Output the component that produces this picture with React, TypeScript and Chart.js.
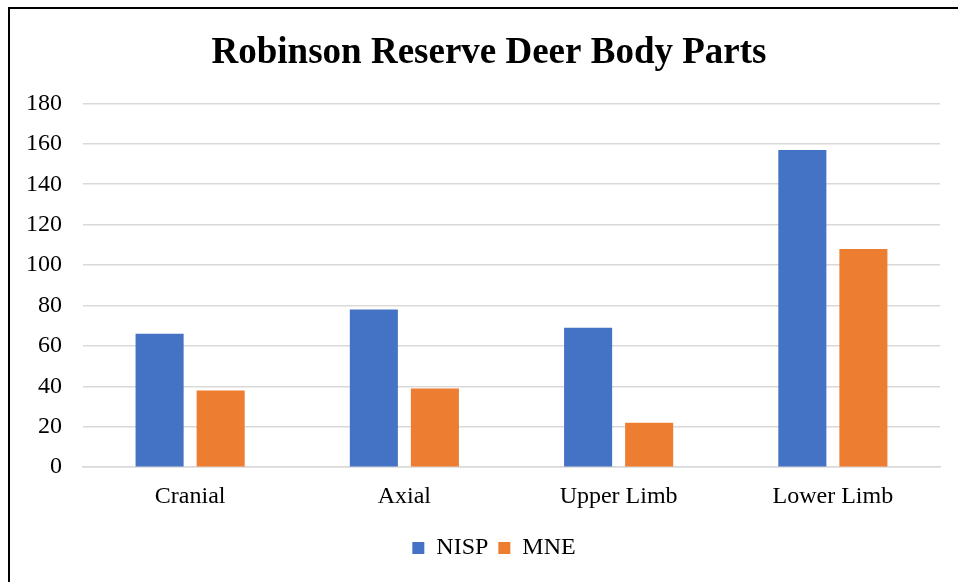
import React, { useEffect, useRef } from "react";
import { Chart, registerables } from "chart.js";

Chart.register(...registerables);

const categories = ["Cranial", "Axial", "Upper Limb", "Lower Limb"];
const nisp = [66, 78, 69, 157];
const mne = [38, 39, 22, 108];
const seriesNames = ["NISP", "MNE"];
const titleText = "Robinson Reserve Deer Body Parts";

const FONT = "'Liberation Serif', 'Times New Roman', serif";

// nudge the title and legend horizontally to match the reference centering
const shiftBlocks = {
  id: "shiftBlocks",
  afterLayout(chart: any) {
    const t = chart.titleBlock;
    if (t) {
      t.left += 6;
      t.right += 6;
    }
    const l = chart.legend;
    if (l) {
      l.left += 11;
      l.right += 11;
    }
  },
};

export default function App() {
  const ref = useRef<HTMLCanvasElement | null>(null);
  useEffect(() => {
    if (!ref.current) return;
    const chart = new Chart(ref.current, {
      type: "bar",
      data: {
        labels: categories,
        datasets: [
          { label: seriesNames[0], data: nisp, backgroundColor: "#4472C4" },
          { label: seriesNames[1], data: mne, backgroundColor: "#ED7D31" },
        ],
      },
      plugins: [shiftBlocks],
      options: {
        responsive: false,
        animation: false,
        datasets: { bar: { categoryPercentage: 0.57, barPercentage: 0.787 } },
        layout: { padding: { left: 26, right: 18, top: 0, bottom: 12 } },
        plugins: {
          title: {
            display: true,
            text: titleText,
            color: "#000",
            font: { family: FONT, size: 37, weight: "bold" },
            padding: { top: 31, bottom: 28 },
          },
          legend: {
            position: "bottom",
            labels: {
              color: "#000",
              font: { family: FONT, size: 24 },
              boxWidth: 12,
              boxHeight: 12,
              padding: 10,
            },
          },
          tooltip: { enabled: false },
        },
        scales: {
          x: {
            grid: { display: false, drawTicks: false },
            border: { display: true, color: "#D9D9D9", width: 1.5 },
            ticks: { color: "#000", font: { family: FONT, size: 24 }, padding: 15 },
          },
          y: {
            min: 0,
            max: 180,
            ticks: { stepSize: 20, color: "#000", font: { family: FONT, size: 24 }, padding: 21 },
            grid: { color: "#D9D9D9", lineWidth: 1.5, drawTicks: false },
            border: { display: false },
            afterFit: (scale: any) => {
              scale.width = 57;
            },
          },
        },
      },
    });
    return () => chart.destroy();
  }, []);
  return (
    <div style={{ position: "fixed", left: 0, top: 0, width: 958, height: 582, background: "#fff" }}>
      <canvas ref={ref} width={958} height={582} style={{ position: "absolute", left: 0, top: 0 }} />
      <div
        style={{
          position: "absolute",
          left: 8,
          top: 7,
          width: 960,
          height: 590,
          borderTop: "2px solid #000",
          borderLeft: "2px solid #000",
          pointerEvents: "none",
        }}
      />
    </div>
  );
}
